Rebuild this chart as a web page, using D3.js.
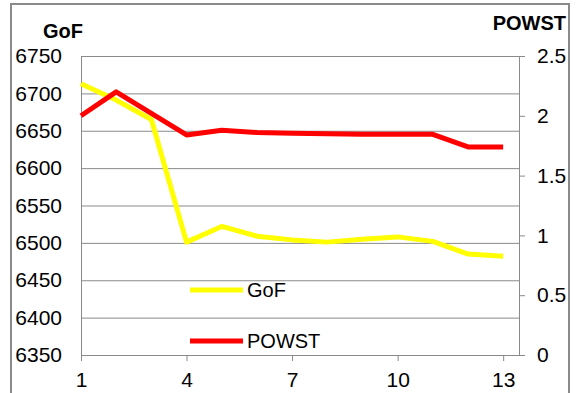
<!DOCTYPE html>
<html>
<head>
<meta charset="utf-8">
<script src="https://cdn.jsdelivr.net/npm/d3@7"></script>
<style>
body { margin: 0; background: #fff; }
text { font-family: "Liberation Sans", Arial, sans-serif; fill: #000; }
</style>
</head>
<body>
<div id="chart-area"></div>
<script>
// data
var steps = [1, 2, 3, 4, 5, 6, 7, 8, 9, 10, 11, 12, 13];
var gof = [6713, 6691, 6665, 6501, 6522, 6509, 6504, 6501, 6505, 6508, 6502, 6485, 6482];
var powst = [2.0, 2.2, 2.02, 1.84, 1.88, 1.86, 1.855, 1.85, 1.845, 1.845, 1.845, 1.74, 1.74];
var xTicks = [1, 4, 7, 10, 13];
var leftTicks = [6350, 6400, 6450, 6500, 6550, 6600, 6650, 6700, 6750];
var rightTicks = [0, 0.5, 1, 1.5, 2, 2.5];

var margin = { left: 81, right: 58, top: 56, bottom: 38 };
var W = 577, H = 393;
var width = W - margin.left - margin.right;
var height = H - margin.top - margin.bottom;

var svg = d3.select("#chart-area").append("svg")
    .attr("width", W)
    .attr("height", H);

// outer frame
svg.append("rect")
    .attr("x", 11).attr("y", 4)
    .attr("width", 558).attr("height", 420)
    .attr("fill", "none")
    .attr("stroke", "#8a8a8a")
    .attr("stroke-width", 2);

var g = svg.append("g")
    .attr("transform", "translate(" + margin.left + ", " + margin.top + ")");

var x = d3.scaleLinear().domain([1, 13.45]).range([0, width]);
var yL = d3.scaleLinear().domain([6350, 6750]).range([height, 0]);
var yR = d3.scaleLinear().domain([0, 2.5]).range([height, 0]);

// left axis + gridlines
var yaxg = g.append("g")
    .attr("class", "y-axis")
    .call(d3.axisLeft(yL).tickValues(leftTicks).tickSize(-width).tickPadding(19).tickFormat(d3.format("d")));
yaxg.selectAll("line").attr("stroke", "#8a8a8a");
yaxg.select(".domain").attr("stroke", "#8a8a8a");
yaxg.selectAll("text").attr("font-size", "21px");

// right axis
var yraxg = g.append("g")
    .attr("class", "y-axis-right")
    .attr("transform", "translate(" + width + ", 0)")
    .call(d3.axisRight(yR).tickValues(rightTicks).tickSize(6).tickPadding(12).tickSizeOuter(0)
        .tickFormat((d) => String(d)));
yraxg.selectAll("line").attr("stroke", "#8a8a8a");
yraxg.select(".domain").attr("stroke", "#8a8a8a");
yraxg.selectAll("text").attr("font-size", "21px");

// x axis
var xaxg = g.append("g")
    .attr("class", "x-axis")
    .attr("transform", "translate(0, " + height + ")")
    .call(d3.axisBottom(x).tickValues(xTicks).tickSize(6).tickPadding(11).tickSizeOuter(0));
xaxg.selectAll("line").attr("stroke", "#8a8a8a");
xaxg.select(".domain").attr("stroke", "#8a8a8a");
xaxg.selectAll("text").attr("font-size", "21px");

// axis titles
svg.append("text")
    .attr("x", 43).attr("y", 38)
    .attr("font-size", "20px")
    .attr("font-weight", "bold")
    .text("GoF");
svg.append("text")
    .attr("x", 566).attr("y", 30)
    .attr("font-size", "20px")
    .attr("font-weight", "bold")
    .attr("text-anchor", "end")
    .text("POWST");

var lineL = d3.line().x((d, i) => x(steps[i])).y((d) => yL(d));
var lineR = d3.line().x((d, i) => x(steps[i])).y((d) => yR(d));

g.append("path")
    .attr("d", lineL(gof))
    .attr("fill", "none")
    .attr("stroke", "#ffff00")
    .attr("stroke-width", 5)
    .attr("stroke-linejoin", "round");
g.append("path")
    .attr("d", lineR(powst))
    .attr("fill", "none")
    .attr("stroke", "#ff0000")
    .attr("stroke-width", 5)
    .attr("stroke-linejoin", "round");

// legend
var legend = [["GoF", "#ffff00", 290], ["POWST", "#ff0000", 341]];
legend.forEach((l) => {
    svg.append("line")
        .attr("x1", 190).attr("x2", 243)
        .attr("y1", l[2]).attr("y2", l[2])
        .attr("stroke", l[1])
        .attr("stroke-width", 5);
    svg.append("text")
        .attr("x", 247).attr("y", l[2])
        .attr("dy", "0.35em")
        .attr("font-size", "20px")
        .text(l[0]);
});
</script>
</body>
</html>
